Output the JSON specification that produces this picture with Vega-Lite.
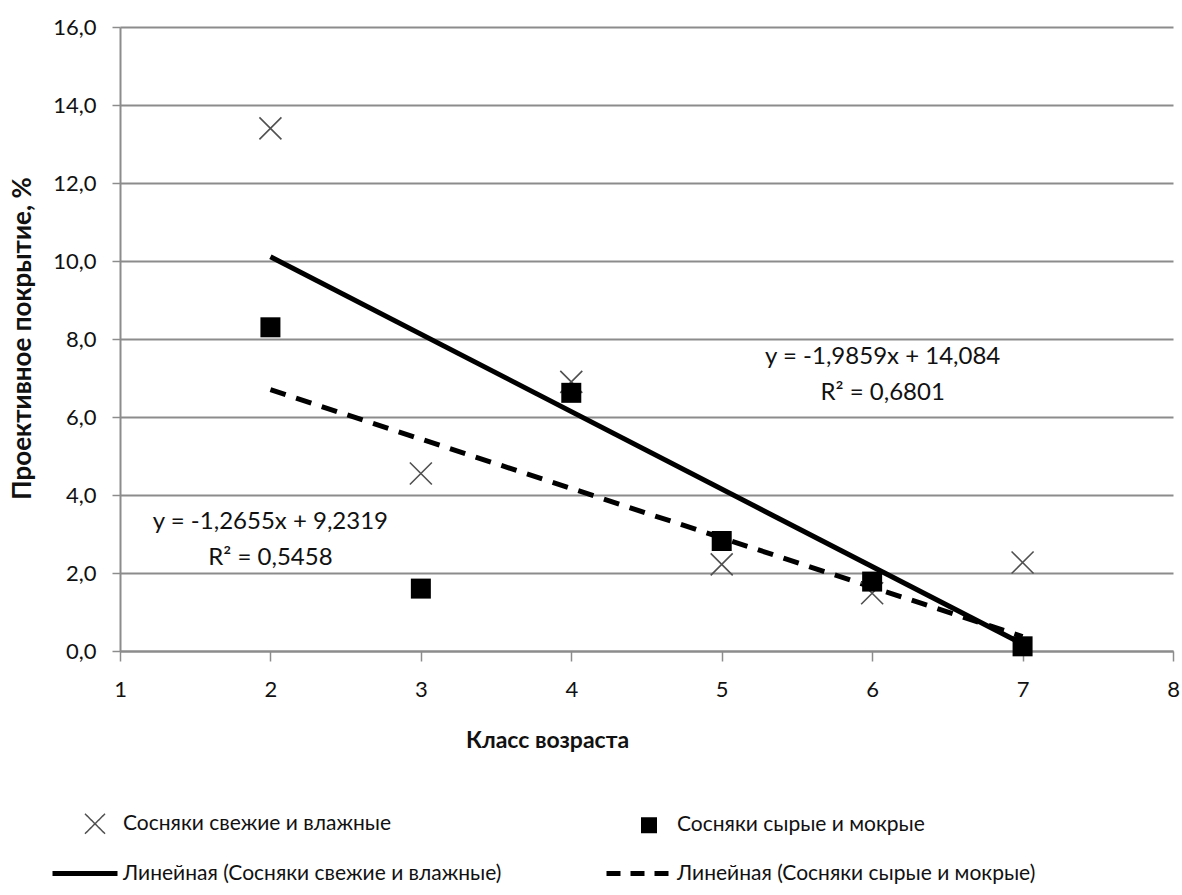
{
  "$schema": "https://vega.github.io/schema/vega-lite/v6.json",
  "width": 1053,
  "height": 624,
  "autosize": "none",
  "padding": {"left": 120, "top": 27, "right": 9, "bottom": 244},
  "background": "white",
  "config": {
    "font": "Lato",
    "view": {"stroke": null}
  },
  "datasets": {
    "pts": [
      {"klass": 2, "val": 13.4, "series": "Сосняки свежие и влажные"},
      {"klass": 3, "val": 4.55, "series": "Сосняки свежие и влажные"},
      {"klass": 4, "val": 6.9, "series": "Сосняки свежие и влажные"},
      {"klass": 5, "val": 2.22, "series": "Сосняки свежие и влажные"},
      {"klass": 6, "val": 1.48, "series": "Сосняки свежие и влажные"},
      {"klass": 7, "val": 2.27, "series": "Сосняки свежие и влажные"},
      {"klass": 2, "val": 8.3, "series": "Сосняки сырые и мокрые"},
      {"klass": 3, "val": 1.6, "series": "Сосняки сырые и мокрые"},
      {"klass": 4, "val": 6.62, "series": "Сосняки сырые и мокрые"},
      {"klass": 5, "val": 2.82, "series": "Сосняки сырые и мокрые"},
      {"klass": 6, "val": 1.78, "series": "Сосняки сырые и мокрые"},
      {"klass": 7, "val": 0.12, "series": "Сосняки сырые и мокрые"}
    ],
    "trend": [
      {"klass": 2, "val": 10.11, "series": "Линейная (Сосняки свежие и влажные)"},
      {"klass": 7, "val": 0.18, "series": "Линейная (Сосняки свежие и влажные)"},
      {"klass": 2, "val": 6.70, "series": "Линейная (Сосняки сырые и мокрые)"},
      {"klass": 7, "val": 0.37, "series": "Линейная (Сосняки сырые и мокрые)"}
    ],
    "notes": [
      {"klass": 6.07, "val": 7.54, "t": "y = -1,9859x + 14,084"},
      {"klass": 6.07, "val": 6.62, "t": "R² = 0,6801"},
      {"klass": 2.0, "val": 3.31, "t": "y = -1,2655x + 9,2319"},
      {"klass": 2.0, "val": 2.38, "t": "R² = 0,5458"}
    ]
  },
  "encoding": {
    "x": {
      "field": "klass", "type": "quantitative",
      "scale": {"domain": [1, 8], "nice": false, "zero": false},
      "axis": {
        "title": "Класс возраста", "values": [1,2,3,4,5,6,7,8], "grid": false,
        "domainColor": "#8c8c8c", "domainWidth": 2, "tickColor": "#8c8c8c", "tickWidth": 1.5, "tickSize": 10,
        "labelFontSize": 22, "labelColor": "#111", "labelPadding": 18, "labelFlush": false,
        "titleFontSize": 23, "titleFontWeight": "bold", "titleColor": "#111",
        "titleX": 427, "titleY": 89, "titleBaseline": "middle", "titleAlign": "center"
      }
    },
    "y": {
      "field": "val", "type": "quantitative",
      "scale": {"domain": [0, 16], "nice": false},
      "axis": {
        "title": "Проективное покрытие, %", "values": [0,2,4,6,8,10,12,14,16],
        "labelExpr": "replace(format(datum.value, '.1f'), '.', ',')",
        "grid": true, "gridColor": "#8c8c8c", "gridWidth": 2,
        "domainColor": "#8c8c8c", "domainWidth": 2, "tickColor": "#8c8c8c", "tickWidth": 1.5, "tickSize": 8,
        "labelFontSize": 22, "labelColor": "#111", "labelPadding": 16,
        "titleFontSize": 26, "titleFontWeight": "bold", "titleColor": "#111",
        "titleX": -98, "titleY": 311, "titleAngle": -90, "titleBaseline": "middle", "titleAlign": "center"
      }
    },
    "color": {
      "field": "series", "type": "nominal",
      "scale": {
        "domain": ["Сосняки свежие и влажные", "Сосняки сырые и мокрые", "Линейная (Сосняки свежие и влажные)", "Линейная (Сосняки сырые и мокрые)"],
        "range": ["#505050", "black", "black", "black"]
      },
      "legend": {
        "title": null, "orient": "none", "legendX": -45, "legendY": 786,
        "direction": "horizontal", "columns": 2, "columnPadding": 94, "rowPadding": 25,
        "labelFontSize": 21, "labelColor": "#111", "labelOffset": 27, "labelLimit": 600,
        "symbolSize": 400,
        "encode": {
          "symbols": {
            "update": {
              "shape": {"signal": "datum.value === 'Сосняки свежие и влажные' ? 'M-1,-1L1,1M1,-1L-1,1' : datum.value === 'Сосняки сырые и мокрые' ? 'square' : 'stroke'"},
              "size": {"signal": "datum.value === 'Сосняки свежие и влажные' ? 400 : datum.value === 'Сосняки сырые и мокрые' ? 256 : 4225"},
              "fill": {"signal": "datum.value === 'Сосняки сырые и мокрые' ? 'black' : 'transparent'"},
              "stroke": {"signal": "datum.value === 'Сосняки свежие и влажные' ? '#505050' : 'black'"},
              "strokeWidth": {"signal": "datum.value === 'Сосняки свежие и влажные' ? 1.5 : datum.value === 'Сосняки сырые и мокрые' ? 0 : 5"},
              "strokeDash": {"signal": "datum.value === 'Линейная (Сосняки сырые и мокрые)' ? [14, 10] : [1, 0]"},
              "x": {"signal": "datum.value === 'Сосняки свежие и влажные' || datum.value === 'Сосняки сырые и мокрые' ? 20 : 10"},
              "opacity": {"value": 1}
            }
          }
        }
      }
    }
  },
  "layer": [
    {
      "data": {"name": "trend"},
      "transform": [{"filter": "datum.series === 'Линейная (Сосняки сырые и мокрые)'"}],
      "mark": {"type": "line", "strokeWidth": 5, "strokeDash": [16, 11]}
    },
    {
      "data": {"name": "trend"},
      "transform": [{"filter": "datum.series === 'Линейная (Сосняки свежие и влажные)'"}],
      "mark": {"type": "line", "strokeWidth": 5}
    },
    {
      "data": {"name": "pts"},
      "transform": [{"filter": "datum.series === 'Сосняки свежие и влажные'"}],
      "mark": {"type": "point", "shape": "M-1,-1L1,1M1,-1L-1,1", "filled": false, "size": 484, "strokeWidth": 1.6, "opacity": 1}
    },
    {
      "data": {"name": "pts"},
      "transform": [{"filter": "datum.series === 'Сосняки сырые и мокрые'"}],
      "mark": {"type": "square", "filled": true, "size": 400, "opacity": 1}
    },
    {
      "data": {"name": "notes"},
      "mark": {"type": "text", "fontSize": 24, "color": "#111", "align": "center", "baseline": "middle"},
      "encoding": {"text": {"field": "t"}, "color": {"value": "#111"}}
    }
  ]
}
